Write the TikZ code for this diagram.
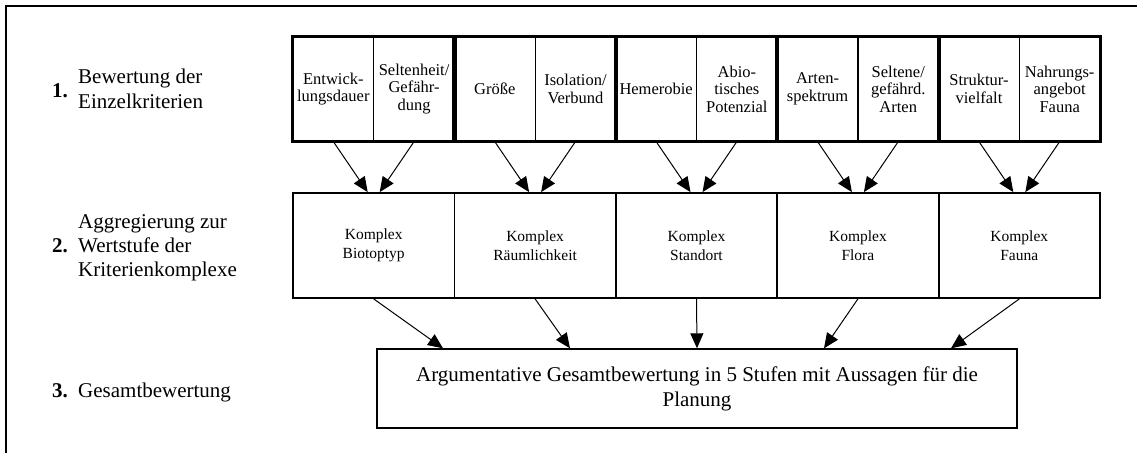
\documentclass[tikz,border=0pt]{standalone}
\usepackage{fontspec}
\setmainfont{Liberation Serif}
\usetikzlibrary{arrows.meta}
\begin{document}
\begin{tikzpicture}[x=1pt,y=-1pt,
  topbox/.style={draw,line width=1.2pt,minimum width=80.7pt,minimum height=104pt,inner sep=1pt,align=center,font=\fontsize{16.5}{17.5}\selectfont},
  midbox/.style={draw,line width=1.8pt,minimum width=161.4pt,minimum height=105pt,inner sep=1pt,align=center,font=\fontsize{15.5}{19}\selectfont},
  botbox/.style={draw,line width=1.4pt,minimum width=640pt,minimum height=79pt,inner sep=1pt,align=center,font=\fontsize{21}{25}\selectfont},
  grp/.style={line width=3pt},
  lbl/.style={anchor=base west,align=left,inner sep=0pt,font=\fontsize{21}{25}\selectfont},
  num/.style={anchor=base west,inner sep=0pt,font=\fontsize{21}{25}\selectfont\bfseries},
  arr/.style={line width=1pt,-{Triangle[length=15pt,width=13pt]}}]
\useasboundingbox (0,0) rectangle (1137,453);
\draw[line width=2pt] (6,453) -- (6,6) -- (1137,6);
% level labels
\node[num] (n1) at (52,97) {1.};
\node[lbl] (l1) at (78,108.5) {Bewertung der\\[0.5pt]Einzelkriterien};
\node[num] (n2) at (52,252) {2.};
\node[lbl] (l2) at (78,276) {Aggregierung zur\\[-1pt]Wertstufe der\\[-1pt]Kriterienkomplexe};
\node[num] (n3) at (52,397) {3.};
\node[lbl] (l3) at (78,397) {Gesamtbewertung};
% top row
\node[topbox] (t1) at (333.35,89) {Entwick-\\lungsdauer};
\node[topbox] (t2) at (414.05,89) {Seltenheit/\\Gefähr-\\dung};
\node[topbox] (t3) at (494.75,89) {Größe};
\node[topbox] (t4) at (575.45,89) {Isolation/\\Verbund};
\node[topbox] (t5) at (656.15,89) {Hemerobie};
\node[topbox] (t6) at (736.85,89) {Abio-\\tisches\\Potenzial};
\node[topbox] (t7) at (817.55,89) {Arten-\\spektrum};
\node[topbox] (t8) at (898.25,89) {Seltene/\\gefährd.\\Arten};
\node[topbox] (t9) at (978.95,89) {Struktur-\\vielfalt};
\node[topbox] (t10) at (1059.65,89) {Nahrungs-\\angebot\\Fauna};
\foreach \a/\b in {t1/t2,t3/t4,t5/t6,t7/t8,t9/t10}
  \draw[grp] (\a.north west) rectangle (\b.south east);
% middle row
\node[midbox] (m1) at (373.7,245.5) {Komplex\\Biotoptyp};
\node[midbox] (m2) at (535.1,245.5) {Komplex\\Räumlichkeit};
\node[midbox] (m3) at (696.5,245.5) {Komplex\\Standort};
\node[midbox] (m4) at (857.9,245.5) {Komplex\\Flora};
\node[midbox] (m5) at (1019.3,245.5) {Komplex\\Fauna};
% bottom
\node[botbox] (b) at (697,388.5) {Argumentative Gesamtbewertung in 5 Stufen mit Aussagen für die\\Planung};
% arrows top -> middle
\foreach \i/\j/\m in {1/2/1,3/4/2,5/6/3,7/8/4,9/10/5}{
  \draw[arr] (t\i.south) -- ([xshift=-6pt]m\m.north);
  \draw[arr] (t\j.south) -- ([xshift=6pt]m\m.north);
}
% arrows middle -> bottom
\draw[arr] (m1.south) -- ([xshift=-254pt]b.north);
\draw[arr] (m2.south) -- ([xshift=-127pt]b.north);
\draw[arr] (m3.south) -- (b.north);
\draw[arr] (m4.south) -- ([xshift=127pt]b.north);
\draw[arr] (m5.south) -- ([xshift=254pt]b.north);
\end{tikzpicture}
\end{document}
